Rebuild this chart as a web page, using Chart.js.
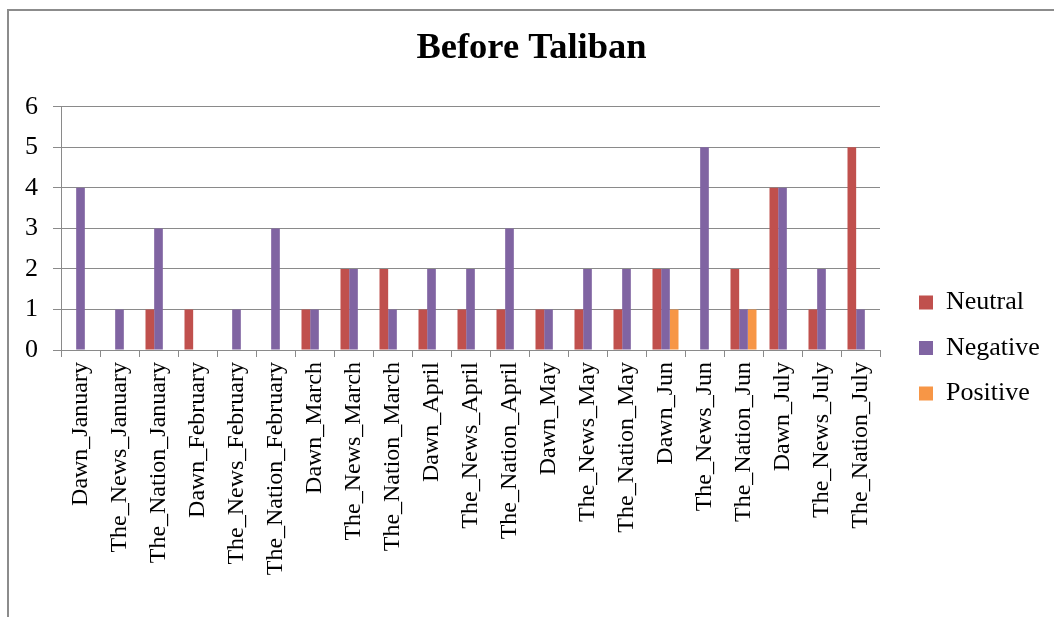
<!DOCTYPE html>
<html>
<head>
<meta charset="utf-8">
<script src="https://cdn.jsdelivr.net/npm/chart.js@4/dist/chart.umd.min.js"></script>
<style>
html,body{margin:0;padding:0;background:#fff;overflow:hidden;}
canvas{display:block;}
</style>
</head>
<body>
<canvas id="c" width="1054" height="696"></canvas>
<script>
const categories = [
  "Dawn_January","The_News_January","The_Nation_January",
  "Dawn_February","The_News_February","The_Nation_February",
  "Dawn_March","The_News_March","The_Nation_March",
  "Dawn_April","The_News_April","The_Nation_April",
  "Dawn_May","The_News_May","The_Nation_May",
  "Dawn_Jun","The_News_Jun","The_Nation_Jun",
  "Dawn_July","The_News_July","The_Nation_July"
];
const neutral  = [0,0,1, 1,0,0, 1,2,2, 1,1,1, 1,1,1, 2,0,2, 4,1,5];
const negative = [4,1,3, 0,1,3, 1,2,1, 2,2,3, 1,2,2, 2,5,1, 4,2,1];
const positive = [0,0,0, 0,0,0, 0,0,0, 0,0,0, 0,0,0, 1,0,1, 0,0,0];
const yTicks = [0,1,2,3,4,5,6];
const chartTitle = "Before Taliban";

const SERIF = '"Liberation Serif","Times New Roman",Times,serif';
const GRID = '#8a8a8a';

const frame = {
  id: 'frame',
  beforeDraw(chart) {
    const ctx = chart.ctx;
    ctx.save();
    ctx.fillStyle = '#fff';
    ctx.fillRect(0, 0, chart.width, chart.height);
    ctx.strokeStyle = '#8c8c8c';
    ctx.lineWidth = 2;
    ctx.beginPath();
    ctx.moveTo(8, chart.height);
    ctx.lineTo(8, 10);
    ctx.lineTo(chart.width, 10);
    ctx.stroke();
    ctx.restore();
  }
};

const legendWidthFix = {
  id: 'legendWidthFix',
  beforeLayout(chart) {
    const lg = chart.legend;
    if (lg && !lg._fixed) {
      const orig = lg.fit;
      lg.fit = function() { orig.call(this); this.width = 154.5; };
      lg._fixed = true;
    }
  }
};

new Chart(document.getElementById('c'), {
  type: 'bar',
  data: {
    labels: categories,
    datasets: [
      { label: 'Neutral',  data: neutral,  backgroundColor: '#C0504D', borderWidth: 0 },
      { label: 'Negative', data: negative, backgroundColor: '#8064A2', borderWidth: 0 },
      { label: 'Positive', data: positive, backgroundColor: '#F79646', borderWidth: 0 }
    ]
  },
  options: {
    responsive: false,
    animation: false,
    devicePixelRatio: 1,
    layout: { padding: { left: 9, right: 0, top: 0, bottom: 0 } },
    datasets: { bar: { categoryPercentage: 3/4.5, barPercentage: 1 } },
    plugins: {
      title: {
        display: true,
        text: chartTitle,
        color: '#000',
        font: { family: SERIF, size: 36.5, weight: 'bold' },
        padding: { top: 27, bottom: 36 }
      },
      legend: {
        position: 'right',
        align: 'center',
        labels: {
          color: '#000',
          boxWidth: 14,
          boxHeight: 14,
          padding: 19.5,
          font: { family: SERIF, size: 26 }
        }
      },
      tooltip: { enabled: false }
    },
    scales: {
      x: {
        offset: true,
        grid: { display: true, offset: true, drawOnChartArea: false, drawTicks: true, tickLength: 7, color: GRID, lineWidth: 1 },
        border: { display: true, color: GRID, width: 1 },
        ticks: {
          autoSkip: false, maxRotation: 90, minRotation: 90, padding: 5,
          color: '#000', font: { family: SERIF, size: 24 }
        },
        afterFit(s) { s.height = 346; }
      },
      y: {
        min: 0, max: 6,
        afterBuildTicks(s) { s.ticks = yTicks.map(v => ({ value: v })); },
        grid: { color: GRID, lineWidth: 1, tickLength: 8, drawTicks: true },
        border: { display: true, color: GRID, width: 1 },
        ticks: { padding: 15, color: '#000', font: { family: SERIF, size: 26 } },
        afterFit(s) { s.width = 52; }
      },
      y2: {
        position: 'right',
        display: true,
        grid: { display: false, drawTicks: false },
        border: { display: false },
        ticks: { display: false },
        afterFit(s) { s.width = 19.5; }
      }
    }
  },
  plugins: [frame, legendWidthFix]
});
</script>
</body>
</html>
